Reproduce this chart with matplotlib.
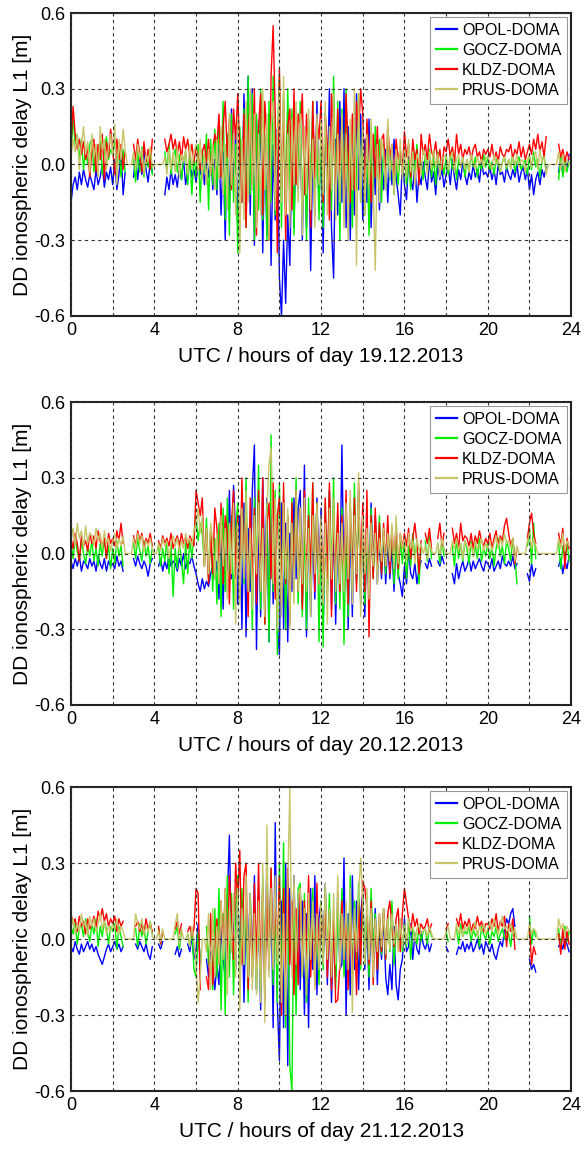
import numpy as np
import matplotlib
matplotlib.use("Agg")
import matplotlib.pyplot as plt

# double-difference ionospheric delay L1 in cm,
# one value every 0.1 h (10 values per hour, one row per hour), x = no data
hours = np.arange(0, 24, 0.1)

days = ["19.12.2013", "20.12.2013", "21.12.2013"]
baselines = ["OPOL-DOMA", "GOCZ-DOMA", "KLDZ-DOMA", "PRUS-DOMA"]
colors = ["#0000ff", "#00ee00", "#ff0000", "#c8c46a"]

# ---- 19.12.2013
opol_19 = """
-15 -8 -5 -10 -3 -8 -2 -6 -9 -4
-7 -10 -2 -8 -5 0 -9 -3 -6 -1
-8 2 -10 -4 6 -12 -3 x x x
-5 3 -6 2 -4 6 -2 -7 1 -3
x x x x x -12 -5 -10 -2 -8
-4 -9 -1 -6 2 -8 -3 3 -5 -2
-7 0 -4 3 -8 1 -5 6 -10 2
-12 8 -20 5 -30 12 -18 22 -8 15
-25 10 -15 28 -5 35 -20 30 -32 18
-15 25 -35 10 -28 20 -40 8 -22 14
-45 -60 -30 -55 -20 -40 5 -25 15 -10
20 -30 10 -25 15 -42 5 -20 25 -15
12 -35 18 -10 30 -25 -45 10 -20 25
-15 30 -25 15 -30 8 -20 28 -10 20
-22 10 -15 18 -25 5 -12 8 -18 3
-10 6 -15 4 -8 10 -5 -12 -20 2
-8 -14 3 -6 -10 2 -15 -4 -8 1
-5 -10 2 -7 -3 -12 0 -6 -2 -9
-4 -1 -8 2 -5 -10 -2 -6 1 -4
-8 -3 -6 0 -5 -2 -7 1 -4 -3
-5 -1 -6 -2 -8 0 -4 -3 -7 -1
-4 -6 -2 -5 0 -7 -3 -1 -6 -2
-10 -4 -12 -6 -3 -8 -2 -5 -1 x
x x x x -3 3 -4 2 -2 4
"""
gocz_19 = """
5 18 8 12 2 10 -2 6 0 8
10 -3 7 1 9 -4 5 11 2 6
4 10 -2 8 -5 6 -3 x x x
2 -7 5 -3 7 -5 3 -1 6 -4
x x x x x 5 -2 8 -4 3
6 -3 4 -6 2 5 -8 3 -12 4
-5 8 -15 6 -3 12 -18 10 -8 14
-10 18 -5 25 -22 12 -28 20 -15 8
-35 15 -10 22 -25 35 -12 28 -30 20
-18 30 -22 12 -30 25 -15 35 -20 10
35 -25 28 -15 30 -10 22 -28 15 -5
25 -20 12 -30 18 -8 25 -15 10 -22
15 -25 20 -10 8 -18 35 -12 25 -30
22 -15 30 -20 12 -25 18 -10 28 -15
15 -20 10 -28 8 -12 15 -5 10 -15
8 -10 12 -6 5 -12 3 -8 6 -4
5 -8 2 -10 6 -3 8 -5 1 -6
4 -2 6 -5 3 -8 5 -3 2 -4
3 -4 5 -2 4 -6 2 -1 3 -5
2 -3 4 -1 3 -5 1 -2 4 -1
3 -2 1 -4 2 0 -3 1 3 -2
2 -1 4 -3 1 3 -2 0 2 -4
3 -2 5 -1 2 -5 1 4 -3 x
x x x x -6 4 -5 2 -3 1
"""
kldz_19 = """
8 23 12 6 10 4 9 2 7 -5
5 10 -3 8 2 12 -6 9 3 14
6 -4 10 2 8 -2 5 x x x
8 2 10 4 -3 9 1 6 -2 10
x x x x x 10 5 8 12 6
10 4 9 2 11 6 10 3 8 1
7 3 -2 5 8 1 10 -4 6 12
8 20 -5 15 25 3 18 -10 22 10
28 5 -15 20 -25 12 25 -8 30 -28
15 28 -20 25 10 -30 35 55 20 -35
38 -10 25 -30 15 22 -18 30 -8 20
15 28 -12 20 5 -25 25 -5 18 10
25 -15 20 8 -22 28 10 -12 22 -5
18 -20 28 5 -15 20 -10 25 12 30
20 -10 18 5 -15 12 -5 15 -8 10
12 -5 15 3 8 -8 10 2 6 -4
13 3 8 -5 10 2 6 -8 12 4
8 2 12 5 3 9 1 6 -2 7
5 10 3 7 1 12 4 8 2 6
4 7 2 6 8 3 5 1 6 4
6 3 8 2 5 1 7 4 3 6
5 8 2 6 4 9 3 7 2 5
8 4 10 6 12 5 9 3 11 x
x x x x 8 3 6 1 5 2
"""
prus_19 = """
3 10 5 12 -2 8 15 4 9 -3
12 3 8 -5 15 6 10 -2 7 12
4 16 -8 10 2 14 6 0 0 0
5 -2 8 3 6 -4 4 1 7 -1
0 0 0 0 0 3 -4 6 -2 5
-3 7 -5 4 1 6 -4 8 -2 5
8 -3 10 -6 4 -8 6 -4 8 -10
10 -6 15 -12 8 -18 20 -8 12 -20
18 -35 10 -22 25 -15 30 -10 20 -25
12 -20 30 -10 20 -30 15 25 -18 10
30 -15 35 -20 12 -25 18 -8 25 -15
20 -28 15 -12 22 -18 10 -25 20 -8
18 -12 25 -20 15 -10 28 -22 12 -15
20 -25 12 -30 18 -10 30 -40 28 -15
15 -20 12 -8 18 -10 -42 8 -15 10
5 -10 18 -5 8 -12 6 -3 10 -6
6 -5 10 -3 5 -8 4 2 -4 6
3 -4 5 -2 6 -1 4 -5 2 3
4 -2 3 5 -3 2 4 -1 3 -2
2 -3 4 1 -2 3 0 2 -1 3
3 1 -2 4 0 2 -3 1 3 -1
2 -2 3 0 4 -1 2 1 -3 2
4 -1 3 5 -2 6 1 3 -4 0
0 0 0 0 5 -2 4 -3 2 0
"""

# ---- 20.12.2013
opol_20 = """
-3 -6 -2 -5 -1 -7 -3 -4 -6 -2
-5 -3 -7 -1 -4 -6 -2 -7 -3 -5
-4 -6 -1 -5 -3 -7 x x x x
-2 -5 -1 -4 -6 -3 -5 -9 -4 -2
x x -5 -2 -7 -3 -6 -1 -5 -3
-4 -7 -2 -5 0 -6 -3 -4 -1 -5
-8 -12 -15 -10 -14 -11 -13 -8 -5 -10
-3 -18 5 -22 12 -15 25 -10 27 8
-20 15 -30 20 -33 10 -15 25 43 -38
15 -25 30 -12 22 -35 18 -20 10 -28
-40 20 -30 12 -35 8 -15 22 -10 18
25 -20 35 -33 15 -25 10 -18 22 -8
18 -30 10 -15 25 -22 12 -28 8 -12
43 -15 20 -30 12 -25 18 -10 25 -20
15 -25 10 -18 20 -8 15 -12 5 -10
8 -12 5 -10 3 -15 6 -8 -12 -17
-5 -12 2 -8 -10 -4 -12 -6 -3 x
-4 -6 -2 -5 x x -3 -5 -1 -4
x x x -8 -12 -4 -10 -6 -3 -7
-5 -2 -7 -3 -6 -4 -2 -5 -7 -3
-4 -6 -2 -7 -5 -3 -6 -1 -4 -5
-3 -5 -1 -6 -4 x x x x -8
-11 -4 -9 -6 x x x x x x
x x x x -5 -2 -8 -3 -6 -1
"""
gocz_20 = """
4 -2 6 1 -3 5 0 -4 3 -1
5 -3 2 -5 4 -1 6 -2 3 -6
2 -4 5 -1 3 -5 x x x x
4 -2 6 1 -3 5 -1 3 -4 2
x x 3 -5 2 -3 6 -8 4 -17
2 -6 5 -3 -12 4 -8 6 -2 8
15 5 12 8 -5 14 -10 10 -15 6
-20 12 -25 18 -15 22 -10 15 -22 8
20 -18 25 -12 30 -20 15 -30 22 -10
35 -22 15 -28 20 -35 47 -15 25 -40
28 -18 20 -30 15 -25 22 -12 30 -20
18 -25 12 -30 22 -15 28 -10 20 -35
12 -37 20 -15 25 -10 30 -20 15 -22
18 -36 10 -25 20 -15 28 -12 22 -18
12 -20 8 -15 18 -10 12 -5 15 -8
10 -8 12 -5 8 -12 5 -10 6 -4
6 -10 3 -5 8 -2 5 -12 4 x
5 -3 7 -2 x x 4 -4 6 -1
x x x 3 -5 6 -2 4 -3 5
2 -4 5 -1 3 -2 6 -3 2 -1
4 -2 3 -5 2 6 -1 3 -4 5
2 -3 6 -1 -12 x x x x 3
10 -4 12 -2 x x x x x x
x x x x 4 -6 3 -2 5 -3
"""
kldz_20 = """
6 2 8 4 -3 7 3 5 1 8
4 7 2 9 5 3 6 -2 8 4
6 3 9 5 12 4 x x x x
7 3 9 5 8 2 6 4 8 3
x x 5 2 7 4 6 3 8 2
5 7 3 8 4 6 2 7 5 3
25 20 15 22 -5 10 -12 8 -8 18
10 -5 20 -12 15 8 -20 12 25 -10
15 -15 30 -8 20 -25 22 -12 18 -20
25 -15 30 -28 12 20 -10 28 -18 15
22 -20 28 -12 15 -28 20 -10 25 -15
18 -22 25 -10 15 -8 28 -15 20 -12
12 -18 22 -10 28 -25 15 -8 20 -15
15 -12 25 -20 18 -10 22 -15 28 -8
20 -15 25 -33 15 -10 18 -5 12 -8
12 -5 15 -8 10 -3 12 -6 8 2
8 3 10 -2 6 12 4 -8 5 x
8 4 10 2 x x 6 12 3 8
x x x 10 4 8 2 12 5 7
6 3 8 2 7 4 9 5 3 6
4 8 2 6 9 3 7 5 11 14
8 3 6 -4 2 x x x x 6
12 16 8 4 x x x x x x
x x x x 8 3 10 -6 6 2
"""
prus_20 = """
5 10 3 12 6 9 2 11 4 8
7 3 10 5 8 2 9 4 6 1
5 8 2 6 3 7 0 0 0 0
6 2 8 4 7 1 5 3 6 2
0 0 4 1 6 3 5 -2 4 7
3 6 1 5 2 8 4 6 3 9
12 18 8 15 -5 10 -8 12 5 -10
8 -12 15 -5 10 -18 12 -8 20 -28
12 -20 18 -10 25 -15 10 -22 15 -8
20 -15 10 -25 18 35 42 -12 22 -30
15 -25 20 -10 18 -30 12 -20 25 -15
18 -12 22 -15 10 -25 15 -8 20 -12
15 -20 12 -28 18 -10 22 -15 8 -12
12 -15 20 -10 25 -20 15 -8 32 -25
15 -8 10 -18 12 -5 8 -12 6 -3
10 -5 8 -3 12 -6 15 -4 8 2
6 -3 8 2 5 -4 6 1 4 0
3 -2 5 1 0 0 4 -1 6 2
0 0 0 5 2 6 1 4 -2 5
3 1 4 -1 5 2 3 6 1 4
2 5 1 4 7 2 6 3 8 4
5 2 6 -3 3 0 0 0 0 5
8 2 6 3 0 0 0 0 0 0
0 0 0 0 6 2 8 1 5 3
"""

# ---- 21.12.2013
opol_21 = """
-3 -5 -1 -4 -6 -2 -5 -3 -1 -4
-2 -5 -3 -6 -8 -10 -7 -4 -2 -5
-3 -1 -4 -2 -5 -3 x x x x
x -2 -4 -1 -3 -5 -2 -6 -8 -3
x x -2 -4 -1 x x x x x
-6 -3 -7 -4 x x -2 -5 1 -8
-4 6 -10 x x -8 -15 -5 -12 -20
-10 -18 5 -8 -15 15 41 -5 10 -12
20 -10 15 -25 12 -5 18 -15 25 -20
12 -28 20 -15 30 -10 22 -35 46 -25
-48 15 -35 30 -50 20 -10 25 -15 18
-20 15 -30 10 -35 20 -12 25 -22 8
15 -10 22 -18 12 -25 8 -15 18 -12
-10 32 -30 10 -22 25 -12 15 -20 10
18 -12 8 -20 15 -10 12 -18 5 -8
10 -15 -22 -10 -20 5 -18 -24 -12 -8
8 -5 -3 6 -8 2 -4 -6 3 -2
-4 -1 -5 -2 x x x x x x
-3 -5 x x x -6 -3 -4 -1 -5
-2 -4 -1 -5 -3 0 -4 -2 -6 -1
-3 -5 -2 -6 -8 -4 -1 -3 4 8
6 10 12 5 x x x x x x
-8 -12 -10 -13 x x x x x x
x x x x -3 -1 -4 0 -2 -5
"""
gocz_21 = """
5 2 7 -2 4 6 1 8 3 -1
6 2 8 -3 5 1 7 4 -2 5
3 6 -4 5 1 -3 x x x x
x 4 -3 6 1 5 -2 3 7 2
x x 4 -2 3 x x x x x
2 5 -4 3 x x 2 -3 4 -12
-15 3 -8 x x 5 -10 8 -20 12
-15 20 -28 10 -30 25 -15 18 -22 12
25 -18 20 -10 15 -25 18 -12 10 -20
15 -22 25 -15 20 -10 28 -18 12 -25
30 -20 38 -35 25 -50 -60 15 -30 20
22 -15 18 -25 12 -10 20 -15 8 -18
15 -12 20 -8 18 -15 10 -20 12 -5
20 -15 12 -10 25 -18 15 -8 22 -12
18 -10 12 -15 20 -5 10 -12 8 -6
12 -8 10 -5 15 -10 6 -3 8 -5
6 -3 8 -8 4 2 -2 5 -1 3
4 -2 5 1 x x x x x x
3 -1 x x x 4 -2 6 1 3
2 5 -1 4 1 3 -3 5 2 0
4 -2 3 1 5 -1 2 4 0 3
2 -3 5 1 x x x x x x
9 -2 4 1 x x x x x x
x x x x 4 -3 2 5 -1 3
"""
kldz_21 = """
10 6 8 3 9 5 7 2 8 4
6 9 4 11 8 12 7 10 5 8
6 9 3 8 5 7 x x x x
x 5 7 3 6 2 8 4 6 3
x x 5 -2 3 x x x x x
4 7 2 6 x x 3 5 1 4
20 18 -20 x x -15 -20 10 -18 -5
8 -10 15 -5 20 -12 25 10 -8 30
15 35 -10 25 30 -20 12 -15 22 -10
30 -15 20 -25 18 -12 28 -10 15 -8
25 -30 20 -15 28 -10 15 -22 12 -18
20 -12 15 -8 25 -15 10 -18 22 -10
12 -5 18 -15 10 -20 8 -25 -24 -10
15 -8 10 -20 12 -15 8 -22 15 -10
23 20 12 -10 15 -18 8 -12 10 -5
12 -8 10 15 5 -3 8 12 -5 10
20 14 8 3 10 5 8 2 6 4
5 8 3 6 x x x x x x
4 6 x x x 8 5 10 4 7
5 8 3 6 4 9 5 7 3 6
6 4 8 5 10 3 7 5 9 -3
6 3 8 -4 x x x x x x
5 -10 -3 -6 x x x x x x
x x x x 2 -6 4 -4 3 -2
"""
prus_21 = """
4 8 2 6 3 10 5 7 1 9
5 8 3 6 10 4 7 2 5 3
6 4 8 2 5 3 0 0 0 0
0 10 6 4 8 2 5 3 7 1
0 0 3 -1 4 0 0 0 0 0
6 10 -2 4 0 0 2 -3 5 -1
-10 -25 -15 0 0 -5 10 -20 12 -15
5 -10 15 -8 20 -22 12 -5 18 -15
20 -28 12 -10 25 -15 18 -20 10 -22
15 -25 30 -33 45 -15 20 -12 25 -10
15 -25 10 -30 20 60 -15 25 -10 18
20 -15 12 -22 18 -8 15 -20 10 -12
15 -10 22 -8 12 -15 18 -10 25 -12
10 -8 15 -12 20 -29 12 -5 18 32
15 -10 20 -8 12 -15 8 -5 10 -3
12 -6 8 -4 10 -2 6 -5 8 -3
6 -2 8 3 5 -1 4 6 2 3
4 1 5 2 0 0 0 0 0 0
3 5 0 0 0 6 2 4 1 5
3 6 2 4 7 1 5 3 6 2
4 7 3 8 5 2 6 9 4 5
3 6 2 4 0 0 0 0 0 0
6 2 4 3 0 0 0 0 0 0
0 0 0 0 8 4 6 2 5 3
"""

series = [
    [opol_19, gocz_19, kldz_19, prus_19],
    [opol_20, gocz_20, kldz_20, prus_20],
    [opol_21, gocz_21, kldz_21, prus_21],
]


def to_metres(txt):
    vals = [np.nan if v == "x" else float(v) for v in txt.split()]
    return np.array(vals) / 100.0


plt.rcParams["font.family"] = ["Liberation Sans", "DejaVu Sans"]

fig = plt.figure(figsize=(5.84, 11.51), dpi=100)

boxes = [
    [0.1216, 0.7255, 0.8564, 0.2632],
    [0.1216, 0.3875, 0.8564, 0.2632],
    [0.1216, 0.0521, 0.8564, 0.2641],
]

for k in range(3):
    ax = fig.add_axes(boxes[k])
    for j in range(4):
        ax.plot(hours, to_metres(series[k][j]), color=colors[j], lw=1.0,
                label=baselines[j])

    ax.set_xlim(0, 24)
    ax.set_ylim(-0.6, 0.6)
    ax.set_xticks(np.arange(0, 25, 4))
    ax.set_xticks(np.arange(2, 24, 4), minor=True)
    ax.set_yticks([-0.6, -0.3, 0.0, 0.3, 0.6])
    ax.set_yticklabels(["-0.6", "-0.3", "0.0", "0.3", "0.6"])
    ax.grid(True, which="both", color="#333333", ls=(0, (3, 3)), lw=0.8)
    ax.set_axisbelow(False)
    ax.tick_params(which="both", direction="in", length=0, labelsize=13,
                   pad=4)
    for s in ax.spines.values():
        s.set_linewidth(1.5)
        s.set_color("#222222")

    ax.set_xlabel("UTC / hours of day " + days[k], fontsize=15, labelpad=6)
    ax.set_ylabel("DD ionospheric delay L1 [m]", fontsize=15, labelpad=2)

    leg = ax.legend(loc="upper right", fontsize=11.5, fancybox=False,
                    edgecolor="#999999", framealpha=1, handlelength=1.3,
                    handletextpad=0.35, labelspacing=0.32, borderpad=0.35,
                    borderaxespad=0.25)
    leg.get_frame().set_linewidth(0.8)
    for h in leg.get_lines():
        h.set_linewidth(1.6)

fig.savefig("out.png", dpi=100)
